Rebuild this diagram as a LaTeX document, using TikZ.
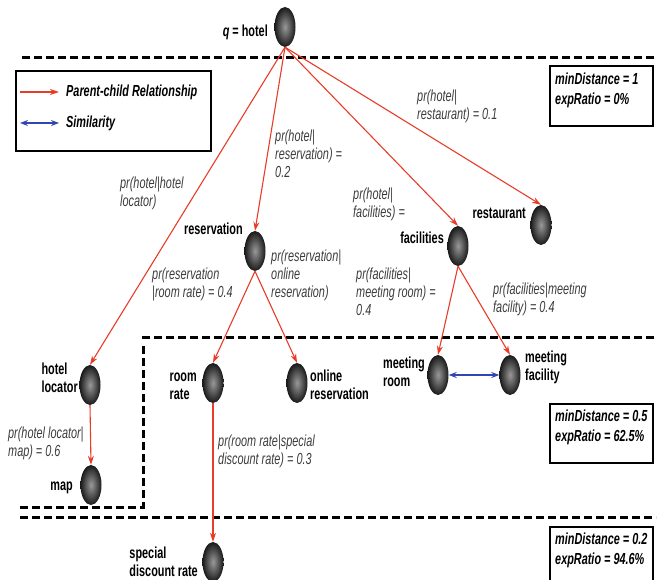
\documentclass[tikz,border=0pt]{standalone}
\usepackage{fontspec}
\setmainfont{Liberation Sans}[FakeStretch=0.68]
\usetikzlibrary{arrows.meta,shapes.geometric,positioning}
\definecolor{relred}{RGB}{232,60,40}
\definecolor{simblue}{RGB}{50,70,175}
\definecolor{labgray}{RGB}{60,60,60}

\begin{document}
\begin{tikzpicture}[x=1pt,y=-1pt,
  term/.style={ellipse,minimum width=21pt,minimum height=40pt,inner sep=0pt,shade,inner color=black!40,outer color=black!90},
  termlab/.style={font=\fontsize{16}{18}\selectfont\bfseries,align=left,inner sep=0pt},
  prob/.style={font=\fontsize{16}{18}\selectfont\itshape,text=labgray,align=left,inner sep=0pt,anchor=north west},
  info/.style={font=\fontsize{16}{20}\selectfont\bfseries\itshape,align=left,inner sep=0pt,anchor=north west},
  frame/.style={draw,line width=2.6pt},
  parent/.style={draw=relred,line width=1.1pt,-{Stealth[length=9pt,width=6pt]}},
  similar/.style={draw=simblue,line width=1.3pt,{Stealth[length=8pt,width=6pt]}-{Stealth[length=8pt,width=6pt]}},
  level/.style={line width=3pt,dash pattern=on 8pt off 4pt}]
  \useasboundingbox (0,0) rectangle (659,580);

  % distance levels
  \draw[level] (22,58) -- (656,58);
  \draw[level] (142,337) -- (656,337);
  \draw[level] (20,507) -- (143,507) -- (143,343);
  \draw[level] (20,517) -- (656,517);

  % legend
  \node[draw,line width=1.6pt,minimum width=195pt,minimum height=80pt,anchor=north west,inner sep=0pt] (legend) at (15,70) {};
  \coordinate (pc0) at (20,92);
  \coordinate (pc1) at (59,92);
  \coordinate (sim0) at (20,123);
  \coordinate (sim1) at (59,123);
  \draw[parent,line width=1.6pt] (pc0) -- (pc1);
  \draw[similar,line width=1.8pt] (sim0) -- (sim1);
  \node[info,anchor=west] (pclab) at (66,92) {Parent-child Relationship};
  \node[info,anchor=west] (simlab) at (66,123) {Similarity};

  % minDistance boxes
  \draw[frame] (550,66) rectangle (653,126);
  \node[info] (dist1) at (555,73) {minDistance = 1\\expRatio = 0\%};
  \draw[frame] (550,404) rectangle (653,463);
  \node[info] (dist2) at (555,410) {minDistance = 0.5\\expRatio = 62.5\%};
  \draw[frame] (550,527) rectangle (653,600);
  \node[info] (dist3) at (555,533) {minDistance = 0.2\\expRatio = 94.6\%};

  % terms
  \node[term] (hotel) at (285,27) {};
  \node[term] (res) at (255,251) {};
  \node[term] (fac) at (458,246) {};
  \node[term] (rest) at (541,225) {};
  \node[term] (loc) at (90,385) {};
  \node[term] (rate) at (213,383) {};
  \node[term] (online) at (297,383) {};
  \node[term] (mroom) at (438,375) {};
  \node[term] (mfac) at (510,375) {};
  \node[term] (map) at (91,485) {};
  \node[term] (disc) at (213,562) {};

  \node[termlab,anchor=east] (hotellab) at (268,32) {{\itshape q} = hotel};
  \node[termlab,anchor=east] (reslab) at (243,229) {reservation};
  \node[termlab,anchor=east] (faclab) at (444,238) {facilities};
  \node[termlab,anchor=east] (restlab) at (526,213) {restaurant};
  \node[termlab,anchor=east] (loclab) at (78,378) {hotel\\locator};
  \node[termlab,anchor=east] (ratelab) at (197,386) {room\\rate};
  \node[termlab,anchor=west] (onlinelab) at (310,385) {online\\reservation};
  \node[termlab,anchor=east] (mroomlab) at (425,372) {meeting\\room};
  \node[termlab,anchor=west] (mfaclab) at (525,367) {meeting\\facility};
  \node[termlab,anchor=east] (maplab) at (73,488) {map};
  \node[termlab,anchor=east] (disclab) at (198,562) {special\\discount rate};

  % parent-child links
  \draw[parent] (hotel.south) -- (loc.north);
  \draw[parent] (hotel.south) -- (res.north);
  \draw[parent] (hotel.south) -- (fac.north);
  \draw[parent] (hotel.south) -- (rest.north);
  \draw[parent] (res.south) -- (rate.north);
  \draw[parent] (res.south) -- (online.north);
  \draw[parent] (fac.south) -- (mroom.north);
  \draw[parent] (fac.south) -- (mfac.north);
  \draw[parent] (loc.south) -- (map.north);
  \draw[parent] (rate.south) -- (disc.north);
  \draw[similar] (mroom.east) -- (mfac.west);

  % probabilities
  \node[prob] (p1) at (120,177) {pr(hotel|hotel\\locator)};
  \node[prob] (p2) at (275,130) {pr(hotel|\\reservation) =\\0.2};
  \node[prob] (p3) at (417,90) {pr(hotel|\\restaurant) = 0.1};
  \node[prob] (p4) at (353,188) {pr(hotel|\\facilities) =};
  \node[prob] (p5) at (152,268) {pr(reservation\\|room rate) = 0.4};
  \node[prob] (p6) at (271,250) {pr(reservation|\\online\\reservation)};
  \node[prob] (p7) at (356,268) {pr(facilities|\\meeting room) =\\0.4};
  \node[prob] (p8) at (493,283) {pr(facilities|meeting\\facility) = 0.4};
  \node[prob] (p9) at (8,427) {pr(hotel locator|\\map) = 0.6};
  \node[prob] (p10) at (218,435) {pr(room rate|special\\discount rate) = 0.3};
\end{tikzpicture}
\end{document}
